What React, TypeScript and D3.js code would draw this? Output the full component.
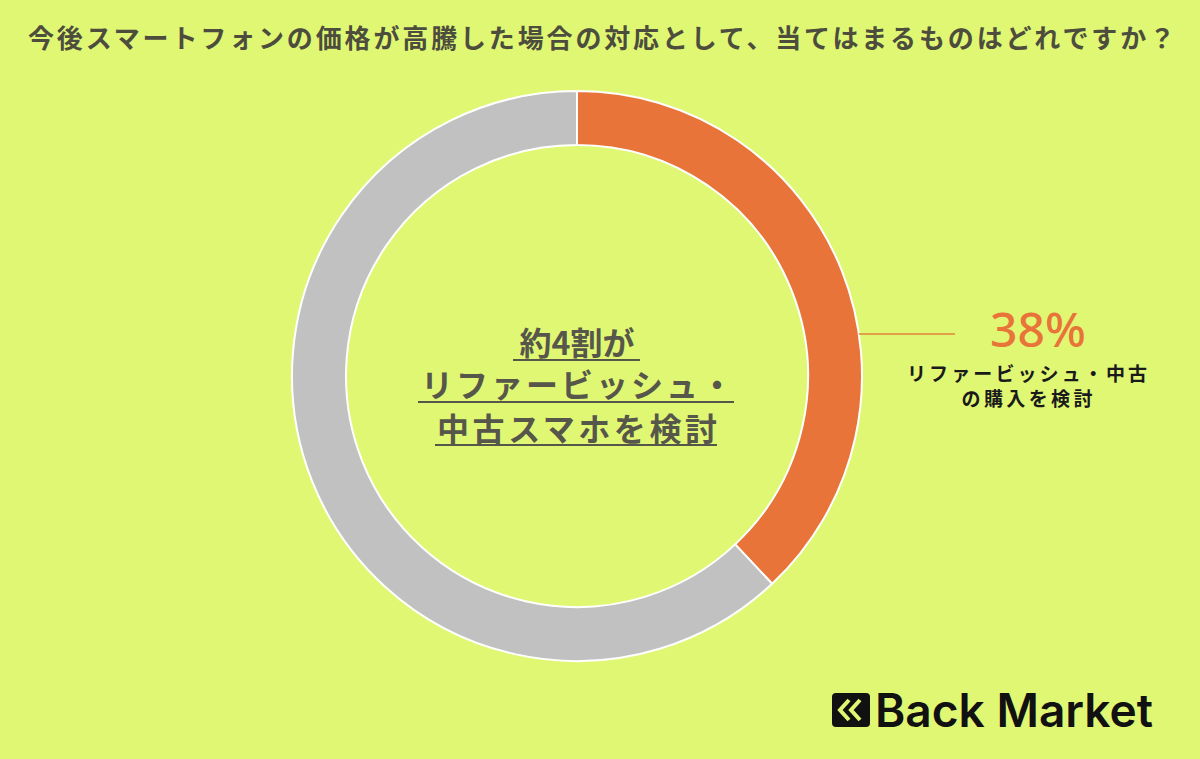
import React from "react";
import * as d3 from "d3";

const W = 1200;
const H = 759;

const title = "今後スマートフォンの価格が高騰した場合の対応として、当てはまるものはどれですか？";
const categories = ["リファービッシュ・中古の購入を検討", "その他"];
const values = [38, 62];
const sliceColors = ["#e8743a", "#c1c1c1"];
const centerLines = ["約4割が", "リファービッシュ・", "中古スマホを検討"];
const labelValue = "38%";
const labelLines = ["リファービッシュ・中古", "の購入を検討"];
const brand = "Back Market";

const BG = "#e0f774";

export default function App() {
  const cx = 577;
  const cy = 376;
  const outerR = 285;
  const innerR = 231;

  const pie = d3
    .pie<number>()
    .sort(null)
    .value((d) => d)
    .startAngle(0)
    .endAngle(2 * Math.PI);
  const arcs = pie(values);
  const arc = d3.arc<d3.PieArcDatum<number>>().innerRadius(innerR).outerRadius(outerR);

  const leaderY = 334;
  const leaderX0 = cx + Math.sqrt(outerR * outerR - (leaderY - cy) * (leaderY - cy));

  const centerY = [355, 397, 441];
  const underlines = [
    [513, 640, 360],
    [418, 734, 402],
    [435, 717, 445],
  ];
  const centerLen = [0, 312, 280];

  return (
    <svg
      width={W}
      height={H}
      style={{ position: "absolute", left: 0, top: 0, display: "block" }}
      fontFamily="'Noto Sans CJK JP', 'Noto Sans', sans-serif"
    >
      <rect x={0} y={0} width={W} height={H} fill={BG} />
      <text
        x={28}
        y={48}
        fontSize={26}
        fontWeight={700}
        fill="#4d4d3e"
        textLength={1147}
        lengthAdjust="spacing"
      >
        {title}
      </text>

      <g transform={`translate(${cx},${cy})`}>
        {arcs.map((a, i) => (
          <path key={categories[i]} d={arc(a) || ""} fill={sliceColors[i]} stroke="#ffffff" strokeWidth={2} />
        ))}
      </g>

      {centerLines.map((t, i) => (
        <g key={t}>
          <text
            x={cx}
            y={centerY[i]}
            textAnchor="middle"
            fontSize={32}
            fontWeight={700}
            fill="#56564a"
            {...(centerLen[i] ? { textLength: centerLen[i], lengthAdjust: "spacing" } : {})}
          >
            {t}
          </text>
          <line
            x1={underlines[i][0]}
            x2={underlines[i][1]}
            y1={underlines[i][2]}
            y2={underlines[i][2]}
            stroke="#56564a"
            strokeWidth={2}
          />
        </g>
      ))}

      <line x1={leaderX0} x2={955} y1={leaderY} y2={leaderY} stroke="#e3853a" strokeWidth={1.5} />
      <text
        x={1038}
        y={347}
        textAnchor="middle"
        fontSize={48}
        fontWeight={500}
        fill="#e8743a"
        fontFamily="'Noto Sans', 'Noto Sans CJK JP', sans-serif"
      >
        {labelValue}
      </text>
      <text x={1027} y={381} textAnchor="middle" fontSize={19} fontWeight={700} fill="#1a1a1a" textLength={240} lengthAdjust="spacing">
        {labelLines[0]}
      </text>
      <text x={1027} y={406} textAnchor="middle" fontSize={19} fontWeight={700} fill="#1a1a1a" textLength={131} lengthAdjust="spacing">
        {labelLines[1]}
      </text>

      <g>
        <rect x={832} y={693} width={38} height={34} rx={4} fill="#111111" />
        <polyline points="849,700 840,710 849,720" fill="none" stroke={BG} strokeWidth={4} strokeLinejoin="miter" />
        <polyline points="860,700 851,710 860,720" fill="none" stroke={BG} strokeWidth={4} strokeLinejoin="miter" />
        <text
          x={875}
          y={727}
          fontSize={46}
          fontWeight={600}
          fill="#111111"
          fontFamily="Inter, 'Noto Sans', sans-serif"
          textLength={278}
          lengthAdjust="spacingAndGlyphs"
        >
          {brand}
        </text>
      </g>
    </svg>
  );
}
